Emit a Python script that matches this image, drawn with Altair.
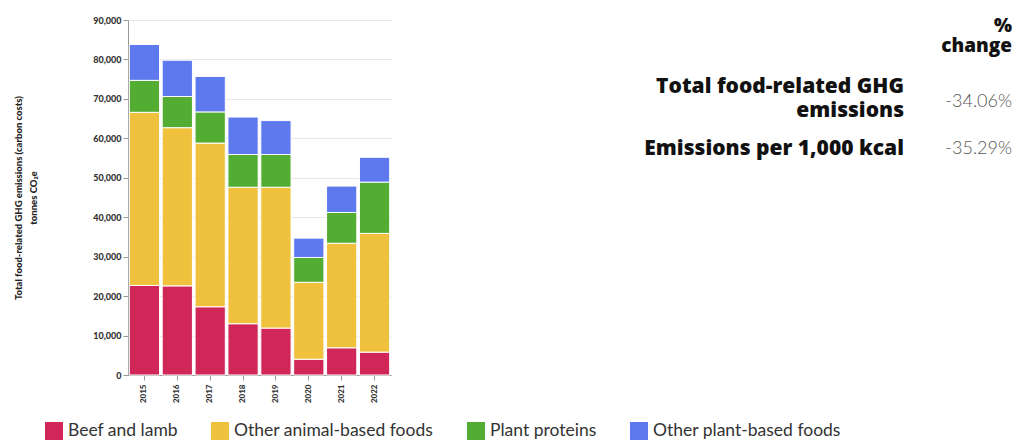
import altair as alt
import pandas as pd

years = ["2015", "2016", "2017", "2018", "2019", "2020", "2021", "2022"]
categories = ["Beef and lamb", "Other animal-based foods", "Plant proteins", "Other plant-based foods"]
beef_lamb = [22700, 22600, 17300, 13000, 11900, 4000, 6900, 5800]
other_animal = [43900, 40100, 41500, 34600, 35700, 19500, 26500, 30100]
plant_proteins = [8100, 7900, 7900, 8300, 8300, 6300, 7800, 13000]
other_plant = [9100, 9200, 9000, 9500, 8600, 4900, 6700, 6300]
colors = ["#D12658", "#EFC13C", "#53AD32", "#5E78EE"]

series = [beef_lamb, other_animal, plant_proteins, other_plant]
rows = []
for ci, (cat, vals) in enumerate(zip(categories, series)):
    for y, v in zip(years, vals):
        rows.append({"year": y, "category": cat, "value": v, "order": ci})
df = pd.DataFrame(rows)

FONT = "Lato"
TFONT = "Open Sans"

bars = alt.Chart(df).mark_bar(stroke="white", strokeWidth=1).encode(
    x=alt.X("year:N", sort=years,
            scale=alt.Scale(paddingInner=0.08, paddingOuter=0.04),
            axis=alt.Axis(title=None, labelAngle=-90, labelFont=FONT, labelFontWeight=900,
                          labelFontSize=8, labelColor="#333", labelPadding=4,
                          domainColor="#999", tickColor="#999", tickSize=5, labelAlign="right",
                          labelBaseline="middle")),
    y=alt.Y("value:Q", stack="zero",
            scale=alt.Scale(domain=[0, 90000], nice=False),
            axis=alt.Axis(title=["Total food-related GHG emissions (carbon costs)", "tonnes CO₂e"],
                          titleFont=FONT, titleFontWeight=900, titleFontSize=9.5, titleColor="#222",
                          titlePadding=54, titleLineHeight=15,
                          values=list(range(0, 90001, 10000)), format=",.0f",
                          labelFont=FONT, labelFontWeight=900, labelFontSize=9, labelColor="#333",
                          domainColor="#999", tickColor="#999", tickSize=5,
                          gridColor="#e8e8e8")),
    color=alt.Color("category:N", sort=categories,
                    scale=alt.Scale(domain=categories, range=colors),
                    legend=alt.Legend(title=None, orient="none", direction="horizontal",
                                      legendX=-83, legendY=402, symbolType="square",
                                      symbolSize=324, symbolStrokeWidth=0, symbolOpacity=1,
                                      labelFont=FONT, labelFontSize=17.5, labelColor="#333",
                                      labelLimit=400, columnPadding=33, labelOffset=5)),
    order=alt.Order("order:Q"),
)

def txt(text, x, y, size, weight, color="#111", font=TFONT):
    return alt.Chart(pd.DataFrame({"t": [text]})).mark_text(
        align="right", baseline="middle", font=font, fontSize=size, fontWeight=weight, color=color
    ).encode(text="t:N", x=alt.value(x), y=alt.value(y))

texts = [
    txt("%", 884, 6, 19, 800),
    txt("change", 884, 26, 19, 800),
    txt("Total food-related GHG", 776, 67, 21, 800),
    txt("emissions", 776, 91, 21, 800),
    txt("-34.06%", 884, 82, 18, 300, "#555", FONT),
    txt("Emissions per 1,000 kcal", 776, 129, 21, 800),
    txt("-35.29%", 884, 129, 18, 300, "#555", FONT),
]

chart = alt.layer(bars, *texts).properties(
    width=263, height=355, padding={"left": 5, "top": 8, "right": 0, "bottom": 0}
).configure_view(stroke=None)

chart.save("out.html", embed_options={"renderer": "svg", "actions": False})
